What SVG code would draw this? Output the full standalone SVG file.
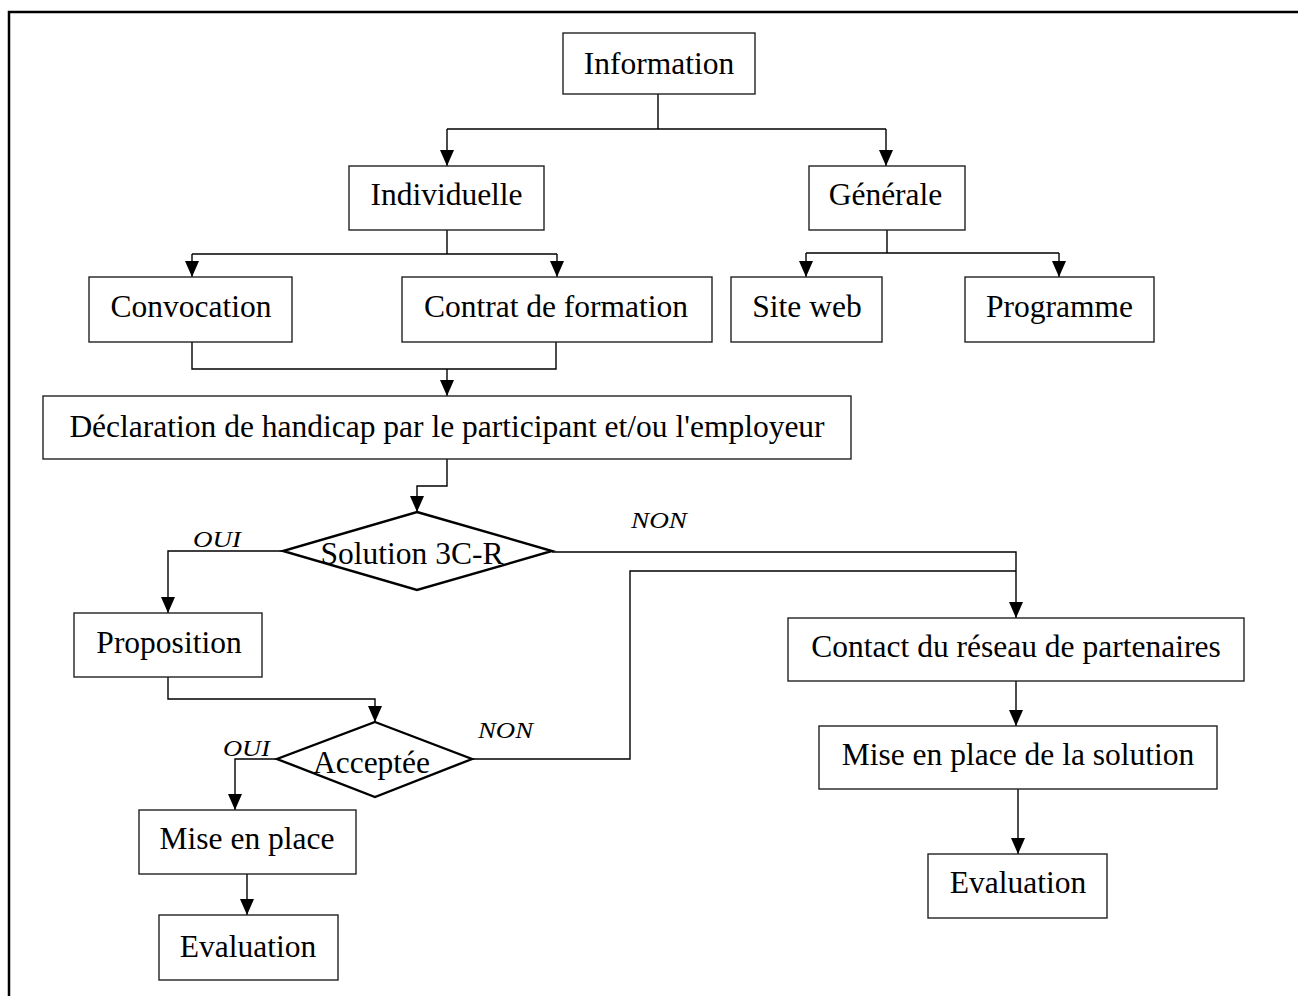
<svg xmlns="http://www.w3.org/2000/svg" width="1298" height="996" viewBox="0 0 1298 996">
<defs>
<style>
.box{fill:#fff;stroke:#222;stroke-width:1.4}
.dia{fill:#fff;stroke:#000;stroke-width:2.4}
.t{font-family:"Liberation Serif","Times New Roman",serif;font-size:31.5px;fill:#000;text-anchor:middle}
.l{font-family:"Liberation Serif","Times New Roman",serif;font-size:23px;font-style:italic;fill:#000}
.c{fill:none;stroke:#000;stroke-width:1.4}
</style>
<marker id="ad" markerUnits="userSpaceOnUse" markerWidth="16" markerHeight="18" refX="8" refY="17" orient="0" viewBox="0 0 16 18">
<path d="M1,1 L15,1 L8,17 Z" fill="#000"/>
</marker>
</defs>
<rect width="1298" height="996" fill="#fff"/>
<path d="M9,996 V12 H1298" fill="none" stroke="#000" stroke-width="2.5"/>

<g id="connectors">
<path class="c" d="M658,94 V129 M447,129 H886 M447,129 V166" marker-end="url(#ad)"/>
<path class="c" d="M886,129 V166" marker-end="url(#ad)"/>
<path class="c" d="M447,230 V254 M192,254 H557 M192,254 V277" marker-end="url(#ad)"/>
<path class="c" d="M557,254 V277" marker-end="url(#ad)"/>
<path class="c" d="M887,230 V253 M806,253 H1059 M806,253 V277" marker-end="url(#ad)"/>
<path class="c" d="M1059,253 V277" marker-end="url(#ad)"/>
<path class="c" d="M192,342 V369 H556 V342"/>
<path class="c" d="M447,369 V396" marker-end="url(#ad)"/>
<path class="c" d="M447,459 V486 H417 V512" marker-end="url(#ad)"/>
<path class="c" d="M283,551 H168 V613" marker-end="url(#ad)"/>
<path class="c" d="M552,552 H1016 V618" marker-end="url(#ad)"/>
<path class="c" d="M472,759 H630 V571 H1016"/>
<path class="c" d="M168,677 V699 H375 V722" marker-end="url(#ad)"/>
<path class="c" d="M277,759 H235 V810" marker-end="url(#ad)"/>
<path class="c" d="M247,874 V915" marker-end="url(#ad)"/>
<path class="c" d="M1016,681 V726" marker-end="url(#ad)"/>
<path class="c" d="M1018,789 V854" marker-end="url(#ad)"/>
<text class="l" x="193" y="547" textLength="48" lengthAdjust="spacingAndGlyphs">OUI</text>
<text class="l" x="631" y="528" textLength="56" lengthAdjust="spacingAndGlyphs">NON</text>
<text class="l" x="223" y="756" textLength="47" lengthAdjust="spacingAndGlyphs">OUI</text>
<text class="l" x="478" y="738" textLength="55" lengthAdjust="spacingAndGlyphs">NON</text>
</g>

<g id="n-information"><rect class="box" x="563" y="33" width="192" height="61"/><text class="t" x="659" y="74">Information</text></g>
<g id="n-individuelle"><rect class="box" x="349" y="166" width="195" height="64"/><text class="t" x="446.5" y="205">Individuelle</text></g>
<g id="n-generale"><rect class="box" x="809" y="166" width="156" height="64"/><text class="t" x="885.5" y="205">Générale</text></g>
<g id="n-convocation"><rect class="box" x="89" y="277" width="203" height="65"/><text class="t" x="191" y="317">Convocation</text></g>
<g id="n-contrat"><rect class="box" x="402" y="277" width="310" height="65"/><text class="t" x="556" y="317">Contrat de formation</text></g>
<g id="n-siteweb"><rect class="box" x="731" y="277" width="151" height="65"/><text class="t" x="807" y="317">Site web</text></g>
<g id="n-programme"><rect class="box" x="965" y="277" width="189" height="65"/><text class="t" x="1059.5" y="317">Programme</text></g>
<g id="n-declaration"><rect class="box" x="43" y="396" width="808" height="63"/><text class="t" x="447" y="437">Déclaration de handicap par le participant et/ou l'employeur</text></g>
<g id="n-solution"><polygon class="dia" points="417,512 552,551 417,590 283,551"/><text class="t" x="412" y="564">Solution 3C-R</text></g>
<g id="n-proposition"><rect class="box" x="74" y="613" width="188" height="64"/><text class="t" x="169" y="653">Proposition</text></g>
<g id="n-acceptee"><polygon class="dia" points="375,722 472,759 375,797 277,759"/><text class="t" x="371.5" y="773">Acceptée</text></g>
<g id="n-miseenplace"><rect class="box" x="139" y="810" width="217" height="64"/><text class="t" x="247" y="849">Mise en place</text></g>
<g id="n-evaluation1"><rect class="box" x="159" y="915" width="179" height="65"/><text class="t" x="248" y="957">Evaluation</text></g>
<g id="n-contact"><rect class="box" x="788" y="618" width="456" height="63"/><text class="t" x="1016" y="657">Contact du réseau de partenaires</text></g>
<g id="n-misesolution"><rect class="box" x="819" y="726" width="398" height="63"/><text class="t" x="1018" y="765">Mise en place de la solution</text></g>
<g id="n-evaluation2"><rect class="box" x="928" y="854" width="179" height="64"/><text class="t" x="1018" y="893">Evaluation</text></g>
</svg>
